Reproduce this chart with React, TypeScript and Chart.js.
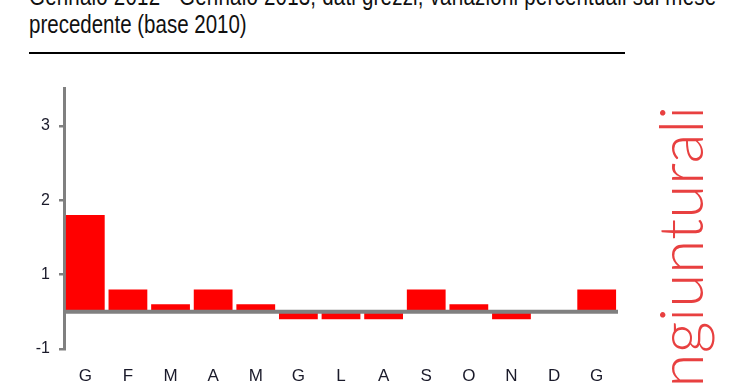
import React, { useEffect, useRef } from "react";
import { Chart, registerables } from "chart.js";

Chart.register(...registerables);

const titleLine1 = "Gennaio 2012 - Gennaio 2013, dati grezzi, variazioni percentuali sul mese";
const titleLine2 = "precedente (base 2010)";
const sideLabel = "congiunturali";

const categories = ["G", "F", "M", "A", "M", "G", "L", "A", "S", "O", "N", "D", "G"];
const values = [1.3, 0.3, 0.1, 0.3, 0.1, -0.1, -0.1, -0.1, 0.3, 0.1, -0.1, 0, 0.3];
const tickValues = [-0.5, 0.5, 1.5, 2.5];
const tickLabels = ["-1", "1", "2", "3"];

const SANS = '"Liberation Sans", Arial, sans-serif';

const zeroLinePlugin = {
  id: "zeroLine",
  afterDatasetsDraw(chart: any) {
    const { ctx, chartArea, scales } = chart;
    const y = scales.y.getPixelForValue(0);
    ctx.save();
    ctx.strokeStyle = "#808080";
    ctx.lineWidth = 4;
    ctx.beginPath();
    ctx.moveTo(chartArea.left, y);
    ctx.lineTo(chartArea.right, y);
    ctx.stroke();
    ctx.restore();
  },
};

export default function App() {
  const canvasRef = useRef<HTMLCanvasElement | null>(null);

  useEffect(() => {
    if (!canvasRef.current) return;
    const chart = new Chart(canvasRef.current, {
      type: "bar",
      data: {
        labels: categories,
        datasets: [
          {
            data: values,
            backgroundColor: "#ff0000",
            borderWidth: 0,
            barPercentage: 0.91,
            categoryPercentage: 1,
          },
        ],
      },
      options: {
        animation: false,
        responsive: false,
        maintainAspectRatio: false,
        layout: { padding: { top: 0, right: 12, left: 0, bottom: 0 } },
        plugins: { legend: { display: false }, tooltip: { enabled: false }, title: { display: false } },
        scales: {
          x: {
            grid: { display: false },
            border: { display: false },
            ticks: {
              color: "#1a1a2a",
              font: { family: SANS, size: 17 },
              padding: 9,
              maxRotation: 0,
              autoSkip: false,
            },
            afterFit: (scale: any) => {
              scale.height = 40;
            },
          },
          y: {
            min: -0.5,
            max: 3.0,
            afterBuildTicks: (scale: any) => {
              scale.ticks = tickValues.map((v) => ({ value: v }));
            },
            afterFit: (scale: any) => {
              scale.width = 64;
            },
            grid: {
              display: true,
              drawOnChartArea: false,
              drawTicks: true,
              tickLength: 5,
              color: "#808080",
              lineWidth: 2.5,
            },
            border: { display: true, color: "#808080", width: 3 },
            ticks: {
              color: "#1a1a2a",
              font: { family: SANS, size: 16 },
              padding: 9,
              callback: (v: any) => {
                const i = tickValues.indexOf(Number(v));
                return i >= 0 ? tickLabels[i] : "";
              },
            },
          },
        },
      },
      plugins: [zeroLinePlugin],
    });
    return () => chart.destroy();
  }, []);

  return (
    <div style={{ position: "fixed", left: 0, top: 0, width: 740, height: 389, background: "#fff", overflow: "hidden" }}>
      <div
        style={{
          position: "absolute",
          left: 29,
          top: -18,
          fontFamily: SANS,
          fontSize: 25,
          lineHeight: "28px",
          color: "#111",
          whiteSpace: "nowrap",
          transform: "scaleX(0.82)",
          transformOrigin: "0 0",
        }}
      >
        <div style={{ letterSpacing: "0.25px" }}>{titleLine1}</div>
        <div>{titleLine2}</div>
      </div>
      <div style={{ position: "absolute", left: 29, top: 52, width: 596, height: 2, background: "#000" }} />
      <canvas
        ref={canvasRef}
        width={630}
        height={319}
        style={{ position: "absolute", left: 0, top: 70, width: 630, height: 319 }}
      />
      <div
        style={{
          position: "absolute",
          left: 648,
          top: 506,
          width: 400,
          textAlign: "right",
          transform: "rotate(-90deg)",
          transformOrigin: "0 0",
          fontFamily: 'Lato, "Open Sans", sans-serif',
          fontWeight: 300,
          fontSize: 62,
          lineHeight: 1,
          color: "#e84040",
          whiteSpace: "nowrap",
        }}
      >
        {sideLabel}
      </div>
    </div>
  );
}
